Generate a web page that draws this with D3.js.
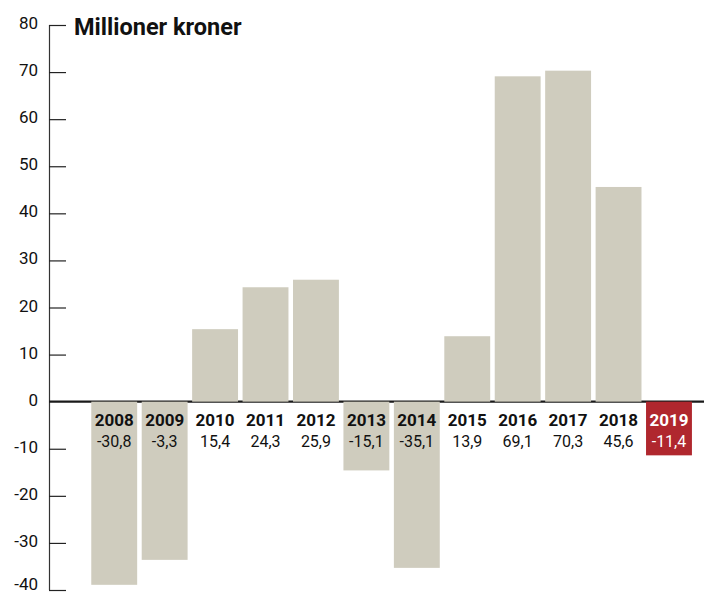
<!DOCTYPE html>
<html><head><meta charset="utf-8">
<script src="https://cdn.jsdelivr.net/npm/d3@7"></script>
<style>body{margin:0;background:#fff}svg{display:block}text{font-family:Roboto,"DejaVu Sans",sans-serif}</style>
</head><body>
<script>
const years = ["2008","2009","2010","2011","2012","2013","2014","2015","2016","2017","2018","2019"];
const barValues = [-38.9, -33.6, 15.4, 24.3, 25.9, -14.6, -35.3, 13.9, 69.1, 70.3, 45.6, -11.4];
const labelValues = [-30.8, -3.3, 15.4, 24.3, 25.9, -15.1, -35.1, 13.9, 69.1, 70.3, 45.6, -11.4];
const yTicks = [80, 70, 60, 50, 40, 30, 20, 10, 0, -10, -20, -30, -40];
const highlightYear = "2019";
const title = "Millioner kroner";

const W = 704, H = 595;
const svg = d3.select("body").append("svg").attr("width", W).attr("height", H);

const y = d3.scaleLinear().domain([-40, 80]).range([590, 25]);
const x = d3.scaleBand().domain(years).range([89, 694.2]).paddingInner(0.09).paddingOuter(0.045);
const axisX = 49;

// y axis
const yAxis = d3.axisRight(y).tickValues(yTicks.filter(t => t !== 0)).tickSize(17).tickFormat("");
const ga = svg.append("g").attr("transform", `translate(${axisX},0)`).call(yAxis);
ga.select(".domain").attr("stroke", "#333").attr("stroke-width", 1.2).attr("d", `M0.5,${y(80)}V${y(-40)}`);
ga.selectAll(".tick line").attr("stroke", "#222").attr("stroke-width", 1.2);

// tick labels (baseline kept inside the picture for the lowest one)
svg.append("g").selectAll("text").data(yTicks).join("text")
  .attr("x", 38).attr("y", d => Math.min(y(d) + 4, H - 5))
  .attr("text-anchor", "end").attr("font-size", 17).attr("fill", "#111")
  .text(d => d < 0 ? "-" + Math.abs(d) : d);

// zero line
svg.append("line").attr("x1", axisX).attr("x2", W).attr("y1", y(0)).attr("y2", y(0))
  .attr("stroke", "#1a1a1a").attr("stroke-width", 2.2);

// bars
svg.append("g").selectAll("rect").data(years).join("rect")
  .attr("x", d => x(d)).attr("width", x.bandwidth())
  .attr("y", (d, i) => y(Math.max(0, barValues[i])))
  .attr("height", (d, i) => Math.abs(y(barValues[i]) - y(0)))
  .attr("fill", d => d === highlightYear ? "#b0272e" : "#cfccbe");

// labels
const fmt = v => (v < 0 ? "-" : "") + Math.abs(v).toFixed(1).replace(".", ",");
const lab = svg.append("g");
lab.selectAll("text.yr").data(years).join("text").attr("class", "yr")
  .attr("x", d => x(d) + x.bandwidth() / 2).attr("y", 425.5)
  .attr("text-anchor", "middle").attr("font-size", 17).attr("font-weight", "bold")
  .attr("fill", d => d === highlightYear ? "#fff" : "#111").text(d => d);
lab.selectAll("text.val").data(years).join("text").attr("class", "val")
  .attr("x", d => x(d) + x.bandwidth() / 2).attr("y", 446.5)
  .attr("text-anchor", "middle").attr("font-size", 16)
  .attr("fill", d => d === highlightYear ? "#fff" : "#111").text((d, i) => fmt(labelValues[i]));

// title
svg.append("text").attr("x", 74).attr("y", 35).attr("font-size", 23.5).attr("font-weight", "bold")
  .attr("fill", "#111").text(title);
</script>
</body></html>
